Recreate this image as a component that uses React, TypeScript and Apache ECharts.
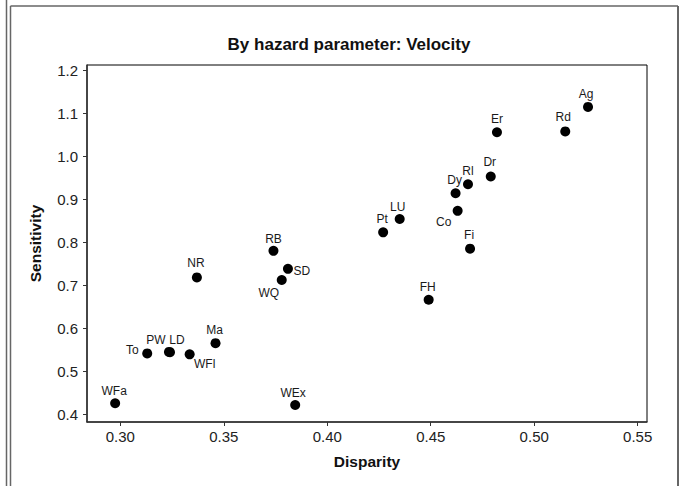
import React, { useEffect, useRef } from "react";
import * as echarts from "echarts";

const names = ["Ag", "Rd", "Er", "Dr", "Rl", "Dy", "Co", "Fi", "LU", "Pt", "FH", "RB", "SD", "WQ", "NR", "Ma", "To", "PW", "LD", "WFl", "WFa", "WEx"];
const disparity = [0.526, 0.515, 0.482, 0.479, 0.468, 0.462, 0.463, 0.469, 0.435, 0.427, 0.449, 0.374, 0.381, 0.378, 0.337, 0.346, 0.313, 0.3235, 0.324, 0.3335, 0.2975, 0.3845];
const sensitivity = [1.115, 1.058, 1.056, 0.953, 0.935, 0.914, 0.873, 0.785, 0.854, 0.823, 0.666, 0.78, 0.738, 0.712, 0.718, 0.565, 0.541, 0.5445, 0.544, 0.539, 0.425, 0.421];

const xTicks = [0.3, 0.35, 0.4, 0.45, 0.5, 0.55];
const yTicks = [0.4, 0.5, 0.6, 0.7, 0.8, 0.9, 1.0, 1.1, 1.2];

const titleText = "By hazard parameter: Velocity";
const xName = "Disparity";
const yName = "Sensitivity";

// label placement offsets (label centre relative to point centre, px)
const labelOffsets: Record<string, [number, number]> = {
  Ag: [-2, -13], Rd: [-2, -14], Er: [0, -13], Dr: [-1, -14], Rl: [0, -13], Dy: [-1, -13],
  Co: [-14, 11], Fi: [-1, -14], LU: [-2, -12], Pt: [-1, -13], FH: [-1, -13], RB: [0, -12],
  SD: [14, 2], WQ: [-13, 13], NR: [-1, -14], Ma: [-1, -13], To: [-15, -3], PW: [-13, -12],
  LD: [7, -12], WFl: [15, 10], WFa: [-1, -12], WEx: [-2, -12],
};

export default function App() {
  const ref = useRef<HTMLDivElement>(null);
  useEffect(() => {
    if (!ref.current) return;
    const chart = echarts.init(ref.current, null, { renderer: "svg" });
    const data = names.map((n, i) => ({
      name: n,
      value: [disparity[i], sensitivity[i]],
      label: { offset: labelOffsets[n] || [0, -13] },
    }));
    const frameColor = "#666";
    chart.setOption({
      animation: false,
      backgroundColor: "#fff",
      textStyle: { fontFamily: "Liberation Sans, Arial, sans-serif" },
      title: {
        text: titleText,
        left: 344,
        top: 31,
        textAlign: "center",
        textStyle: { fontSize: 17, fontWeight: "bold", color: "#111", fontFamily: "Liberation Sans, Arial, sans-serif" },
      },
      grid: {
        left: 87,
        right: 36,
        top: 65,
        bottom: 64,
        show: true,
        borderColor: "#000",
        borderWidth: 1,
        backgroundColor: "#fff",
        outerBoundsMode: "none",
      },
      xAxis: {
        type: "value",
        min: 0.2839,
        max: 0.5545,
        splitLine: { show: false },
        axisLine: { show: true, onZero: false, lineStyle: { color: "#333", width: 1.5 } },
        axisTick: { show: true, length: 4, customValues: xTicks, lineStyle: { color: "#333" } },
        axisLabel: {
          customValues: xTicks,
          formatter: (v: number) => v.toFixed(2),
          fontSize: 15,
          color: "#222",
          margin: 7,
        },
        name: xName,
        nameLocation: "middle",
        nameGap: 31,
        nameTextStyle: { fontWeight: "bold", fontSize: 15.5, color: "#111" },
      },
      yAxis: {
        type: "value",
        min: 0.3814,
        max: 1.2126,
        splitLine: { show: false },
        axisLine: { show: true, onZero: false, lineStyle: { color: "#333", width: 1.5 } },
        axisTick: { show: true, length: 4, customValues: yTicks, lineStyle: { color: "#333" } },
        axisLabel: {
          customValues: yTicks,
          formatter: (v: number) => v.toFixed(1),
          fontSize: 15,
          color: "#222",
          margin: 9,
        },
        name: yName,
        nameLocation: "middle",
        nameGap: 44,
        nameTextStyle: { fontWeight: "bold", fontSize: 15.5, color: "#111" },
      },
      series: [
        {
          type: "scatter",
          symbol: "circle",
          symbolSize: 10,
          itemStyle: { color: "#000", opacity: 1 },
          data,
          label: {
            show: true,
            position: "inside",
            formatter: (p: any) => p.name,
            fontSize: 12,
            color: "#1a1a1a",
          },
        },
      ],
      graphic: [
        { type: "line", shape: { x1: 6.5, y1: 0, x2: 6.5, y2: 486 }, style: { stroke: frameColor, lineWidth: 1.5 } },
        { type: "line", shape: { x1: 10.5, y1: 6, x2: 10.5, y2: 486 }, style: { stroke: frameColor, lineWidth: 1.5 } },
        { type: "line", shape: { x1: 10.5, y1: 6, x2: 678, y2: 6 }, style: { stroke: frameColor, lineWidth: 1.5 } },
        { type: "line", shape: { x1: 678, y1: 6, x2: 678, y2: 486 }, style: { stroke: frameColor, lineWidth: 2 } },
      ],
    });
    return () => chart.dispose();
  }, []);
  return <div ref={ref} style={{ position: "fixed", left: 0, top: 0, width: 683, height: 486 }} />;
}
